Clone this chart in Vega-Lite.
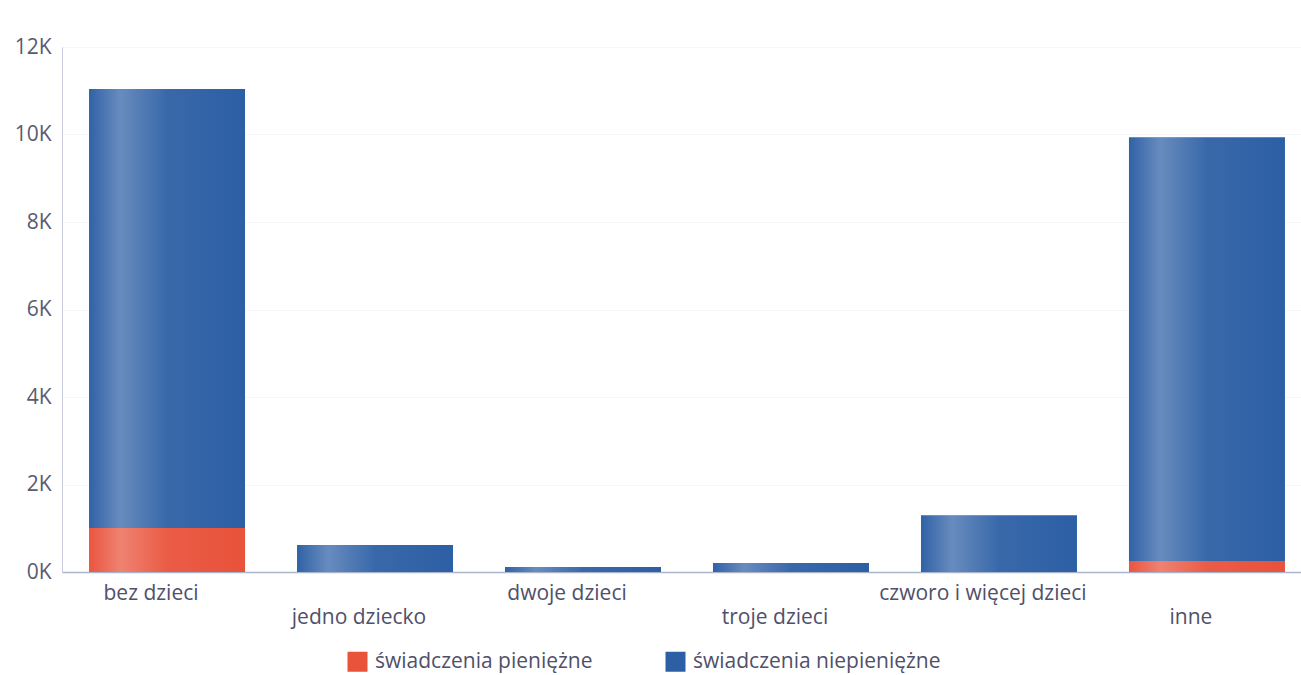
{
  "$schema": "https://vega.github.io/schema/vega-lite/v6.json",
  "width": 1250,
  "height": 525,
  "autosize": "none",
  "padding": {"left": 62, "top": 47, "right": 0, "bottom": 103},
  "background": "white",
  "config": {"view": {"stroke": null}, "font": "Open Sans"},
  "data": {"values": [
    {"category": "bez dzieci", "type": "świadczenia pieniężne", "value": 1005},
    {"category": "bez dzieci", "type": "świadczenia niepieniężne", "value": 10035},
    {"category": "jedno dziecko", "type": "świadczenia pieniężne", "value": 0},
    {"category": "jedno dziecko", "type": "świadczenia niepieniężne", "value": 620},
    {"category": "dwoje dzieci", "type": "świadczenia pieniężne", "value": 0},
    {"category": "dwoje dzieci", "type": "świadczenia niepieniężne", "value": 115},
    {"category": "troje dzieci", "type": "świadczenia pieniężne", "value": 0},
    {"category": "troje dzieci", "type": "świadczenia niepieniężne", "value": 205},
    {"category": "czworo i więcej dzieci", "type": "świadczenia pieniężne", "value": 0},
    {"category": "czworo i więcej dzieci", "type": "świadczenia niepieniężne", "value": 1300},
    {"category": "inne", "type": "świadczenia pieniężne", "value": 250},
    {"category": "inne", "type": "świadczenia niepieniężne", "value": 9690}
  ]},
  "transform": [
    {"stack": "value", "groupby": ["category"], "sort": [{"field": "type", "order": "descending"}], "as": ["v0", "v1"]}
  ],
  "encoding": {
    "x": {
      "field": "category", "type": "nominal",
      "sort": ["bez dzieci", "jedno dziecko", "dwoje dzieci", "troje dzieci", "czworo i więcej dzieci", "inne"],
      "scale": {"paddingInner": 0.25, "paddingOuter": 0.13},
      "axis": {
        "title": null, "labelAngle": 0, "ticks": false,
        "domainColor": "#a9b6cc", "domainWidth": 1.5,
        "labelFontSize": 21, "labelColor": "#50506a", "labelPadding": 10,
        "labelLineHeight": 24, "labelOffset": -16, "labelLimit": 0,
        "labelExpr": "indexof(['jedno dziecko','troje dzieci','inne'], datum.value) >= 0 ? ['', datum.value] : datum.value"
      }
    },
    "y": {
      "field": "v0", "type": "quantitative",
      "scale": {"domain": [0, 12000]},
      "axis": {
        "title": null, "ticks": false, "values": [0, 2000, 4000, 6000, 8000, 10000, 12000],
        "labelOverlap": false, "labelBound": false, "labelFlush": false,
        "labelExpr": "(datum.value / 1000) + 'K'",
        "labelFontSize": 21, "labelColor": "#5a5a72", "labelPadding": 11,
        "domainColor": "#c9c9dc", "gridColor": "#f7f7fa"
      }
    },
    "y2": {"field": "v1"}
  },
  "layer": [
    {
      "mark": {"type": "bar"},
      "encoding": {
        "color": {
          "field": "type", "type": "nominal",
          "scale": {"domain": ["świadczenia pieniężne", "świadczenia niepieniężne"], "range": ["#e9523b", "#2d5fa5"]},
          "legend": {
            "title": null, "orient": "none", "direction": "horizontal",
            "legendX": 285, "legendY": 604,
            "symbolType": "square", "symbolSize": 400, "symbolStrokeWidth": 0,
            "labelFontSize": 21, "labelColor": "#50506a", "labelOffset": 7, "labelLimit": 0,
            "columnPadding": 72
          }
        }
      }
    },
    {
      "mark": {
        "type": "bar",
        "fill": {
          "gradient": "linear", "x1": 0, "x2": 1, "y1": 0, "y2": 0,
          "stops": [
            {"offset": 0, "color": "rgba(255,255,255,0.02)"},
            {"offset": 0.2, "color": "rgba(255,255,255,0.28)"},
            {"offset": 0.5, "color": "rgba(255,255,255,0.06)"},
            {"offset": 1, "color": "rgba(255,255,255,0)"}
          ]
        }
      }
    }
  ]
}
